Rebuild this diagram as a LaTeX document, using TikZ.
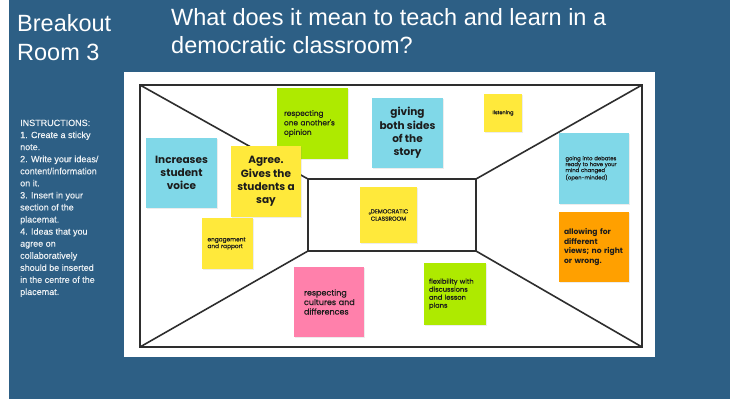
\documentclass[tikz,border=0pt]{standalone}
\usepackage{fontspec}
\usetikzlibrary{shadows}
\setmainfont{Liberation Sans}
\newfontfamily\notefont{Poppins}
\newfontfamily\notemed{Poppins}[FakeBold=0.6]
\newfontfamily\instrfont{Liberation Sans}[FakeBold=0.4]
\definecolor{bgblue}{HTML}{2D5F85}
\definecolor{ncyan}{HTML}{80D8E8}
\definecolor{nyellow}{HTML}{FFE93B}
\definecolor{ngreen}{HTML}{AEEA00}
\definecolor{norange}{HTML}{FFA000}
\definecolor{npink}{HTML}{FF80AB}
\definecolor{ntext}{HTML}{1C1C1C}
\definecolor{mat}{HTML}{2E2E2E}
\definecolor{instr}{HTML}{EEF2F5}
\begin{document}
\begin{tikzpicture}[x=1pt,y=-1pt,
  note/.style={inner sep=0pt, text=ntext, align=center, drop shadow={opacity=0.15, shadow xshift=0.6pt, shadow yshift=-0.6pt}},
  matline/.style={draw=mat, line width=1.6pt},
  title/.style={text=white, inner sep=0pt, anchor=north west, align=left}
]
\useasboundingbox (0,0) rectangle (734,399);
\fill[white] (0,0) rectangle (734,399);
\fill[bgblue] (9,0) rectangle (730,399);
\fill[white] (124,72) rectangle (655,357);

% titles
\node[title, font=\fontsize{23.5}{29}\selectfont] (room) at (17,14) {Breakout\\Room 3};
\node[title, font=\fontsize{23.5}{28}\selectfont] (question) at (171,8.5) {What does it mean to teach and learn in a\\democratic classroom?};
\node[title, text=instr, font=\instrfont\fontsize{9}{12.07}\selectfont] (instr) at (20,119.5) {INSTRUCTIONS:\\1. Create a sticky\\note.\\2. Write your ideas/\\content/information\\on it.\\3. Insert in your\\section of the\\placemat.\\4. Ideas that you\\agree on\\collaboratively\\should be inserted\\in the centre of the\\placemat.};

% placemat
\coordinate (o1) at (140,85);
\coordinate (o2) at (642,85);
\coordinate (o3) at (642,347);
\coordinate (o4) at (140,347);
\coordinate (i1) at (308,179);
\coordinate (i2) at (476,179);
\coordinate (i3) at (476,251);
\coordinate (i4) at (308,251);
\draw[matline, line join=miter] (o1) -- (o2) -- (o3) -- (o4) -- cycle;
\draw[matline, line join=miter] (i1) -- (i2) -- (i3) -- (i4) -- cycle;
\draw[matline] (o1) -- (i1);
\draw[matline] (o2) -- (i2);
\draw[matline] (o3) -- (i3);
\draw[matline] (o4) -- (i4);

% sticky notes
\node[note, fill=ncyan, minimum width=71, minimum height=70, font=\notefont\bfseries\fontsize{10.5}{13.3}\selectfont] (voice) at (181.5,173) {Increases\\student\\voice};
\node[note, fill=ngreen, minimum width=71, minimum height=71, text width=57, align=left, font=\notemed\fontsize{7.4}{9.5}\selectfont] (opinion) at (312.5,123.5) {respecting\\one another's\\opinion};
\node[note, fill=nyellow, minimum width=70, minimum height=71, font=\notefont\bfseries\fontsize{10.5}{13.3}\selectfont] (agree) at (266,181.5) {Agree.\\Gives the\\students a\\say};
\node[note, fill=nyellow, minimum width=51, minimum height=51, text width=40, align=left, font=\notemed\fontsize{5.8}{6.7}\selectfont] (engage) at (227.5,243.5) {engagement\\and rapport};
\node[note, fill=ncyan, minimum width=71, minimum height=70, font=\notefont\bfseries\fontsize{10.5}{13.3}\selectfont] (sides) at (407.5,133) {giving\\both sides\\of the\\story};
\node[note, fill=nyellow, minimum width=38, minimum height=38, font=\notemed\fontsize{5}{6}\selectfont] (listen) at (503,113) {listening};
\node[note, fill=ncyan, minimum width=70, minimum height=71, text width=57, align=left, font=\notemed\fontsize{5.3}{5.9}\selectfont] (debates) at (594,168.5) {going into debates\\ready to have your\\mind changed\\(open-minded)};
\node[note, fill=norange, minimum width=70, minimum height=70, text width=60, align=left, font=\notefont\bfseries\fontsize{7.6}{9.5}\selectfont] (views) at (594,247) {allowing for\\different\\views; no right\\or wrong.};
\node[note, fill=nyellow, minimum width=57, minimum height=56, font=\notemed\fontsize{5.8}{7.3}\selectfont] (demo) at (388.5,215) {\raisebox{-0.3ex}{\fontsize{3}{3}\selectfont a}DEMOCRATIC\\CLASSROOM};
\node[note, fill=npink, minimum width=70, minimum height=70, text width=50, align=left, font=\notemed\fontsize{8}{9.5}\selectfont] (cultures) at (329,302) {respecting\\\mbox{cultures and}\\differences};
\node[note, fill=ngreen, minimum width=62, minimum height=62, text width=52, align=left, font=\notemed\fontsize{6.7}{8}\selectfont] (flex) at (455,294) {flexibility with\\discussions\\and lesson\\plans};
\end{tikzpicture}
\end{document}
